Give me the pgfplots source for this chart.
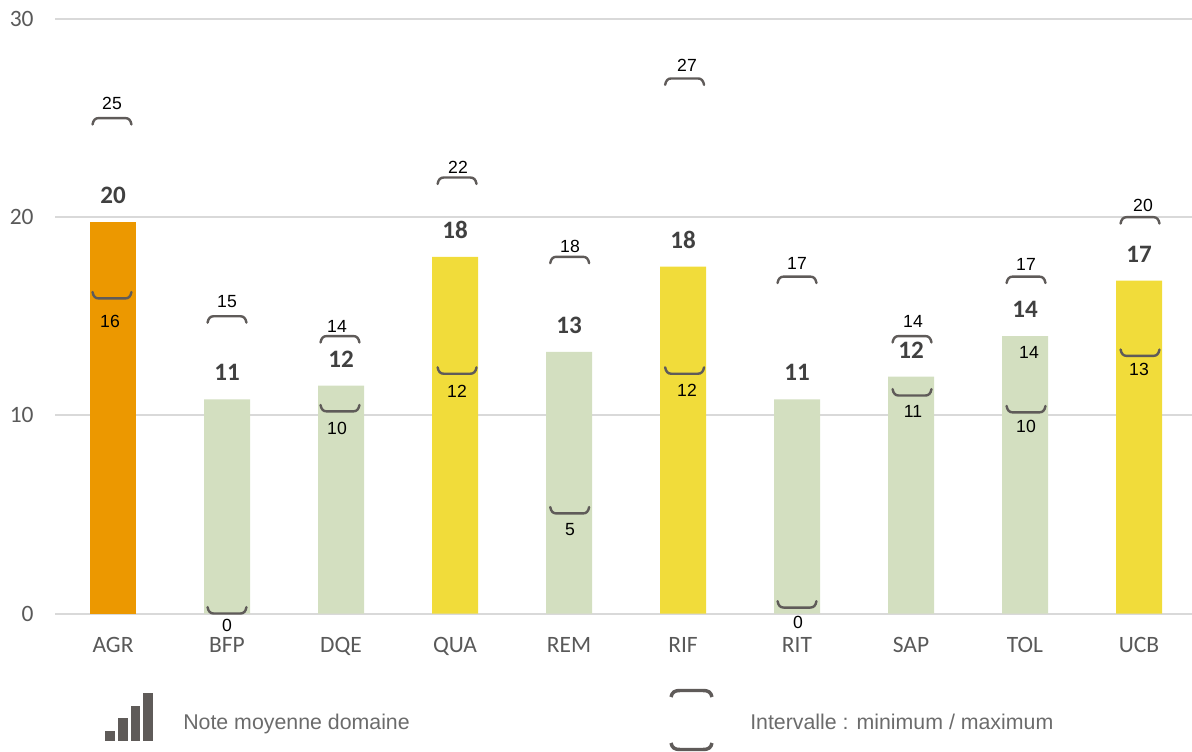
\documentclass[border=0pt]{standalone}
\usepackage{pgfplots}
\usepackage{fontspec}
\pgfplotsset{compat=1.18}
\setmainfont{Liberation Sans}
\newfontfamily\carlito{Carlito}
\definecolor{barorange}{HTML}{EC9800}
\definecolor{baryellow}{HTML}{F1DC3A}
\definecolor{bargreen}{HTML}{D3DFC0}
\definecolor{gridc}{HTML}{D9D9D9}
\definecolor{brk}{HTML}{5F5B59}
\definecolor{tickc}{HTML}{595959}
\definecolor{valc}{HTML}{404040}
\definecolor{legc}{HTML}{6B6B6B}
\pgfdeclareplotmark{brtop}{%
  \pgfsetlinewidth{1.8pt}\pgfsetroundcap
  \pgfpathmoveto{\pgfpoint{-14.6pt}{-4.8pt}}
  \pgfpathcurveto{\pgfpoint{-14pt}{-1.5pt}}{\pgfpoint{-12.5pt}{0pt}}{\pgfpoint{-10pt}{0pt}}
  \pgfpathlineto{\pgfpoint{10pt}{0pt}}
  \pgfpathcurveto{\pgfpoint{12.5pt}{0pt}}{\pgfpoint{14pt}{-1.5pt}}{\pgfpoint{14.6pt}{-4.8pt}}
  \pgfusepathqstroke}
\pgfdeclareplotmark{brbot}{%
  \pgfsetlinewidth{1.8pt}\pgfsetroundcap
  \pgfpathmoveto{\pgfpoint{-14.6pt}{4.8pt}}
  \pgfpathcurveto{\pgfpoint{-14pt}{1.5pt}}{\pgfpoint{-12.5pt}{0pt}}{\pgfpoint{-10pt}{0pt}}
  \pgfpathlineto{\pgfpoint{10pt}{0pt}}
  \pgfpathcurveto{\pgfpoint{12.5pt}{0pt}}{\pgfpoint{14pt}{1.5pt}}{\pgfpoint{14.6pt}{4.8pt}}
  \pgfusepathqstroke}
\begin{document}
\begin{tikzpicture}
\path[use as bounding box] (0,0) rectangle (894pt,563.25pt);
\begin{axis}[
  at={(41.25pt,103.125pt)}, anchor=south west,
  scale only axis, width=852.75pt, height=445.875pt,
  xmin=-0.5088, xmax=9.4649, ymin=0, ymax=30,
  clip=false,
  axis line style={draw=none},
  major tick length=0pt,
  xtick={0,...,9},
  xticklabels={AGR,BFP,DQE,QUA,REM,RIF,RIT,SAP,TOL,UCB},
  ytick={0,10,20,30},
  ymajorgrids,
  grid style={draw=gridc,line width=1.5pt},
  /pgf/number format/assume math mode=true,
  tick label style={font=\carlito\fontsize{17.6}{20}\selectfont,text=tickc},
  xticklabel style={yshift=-14.5pt},
  yticklabel style={xshift=-12.5pt},
  barval/.style={
    ybar, bar shift=0pt, bar width=34.5pt, draw=none,
    point meta=y,
    nodes near coords={\pgfmathprintnumber[fixed,precision=0]{\pgfplotspointmeta}},
    every node near coord/.style={anchor=center,yshift=20pt,text=valc,
      font=\carlito\bfseries\fontsize{18.8}{20}\selectfont,inner sep=0pt},
  },
]
\addplot[barval,fill=barorange] coordinates {(0,19.75)};
\addplot[barval,fill=bargreen] coordinates {(1,10.8)(2,11.5)(4,13.2)(6,10.8)(7,11.95)(8,14)};
\addplot[barval,fill=baryellow] coordinates {(3,18)(5,17.5)(9,16.8)};
\addplot[only marks,mark=brtop,brk] coordinates {
  (-0.009,25)(1,15)(1.991,14)(3.018,22)(4.006,18)(5.014,27)(6,17)(7.009,14)(8.009,17)(9.009,20)};
\addplot[only marks,mark=brbot,brk] coordinates {
  (-0.009,15.9)(1,0)(1.991,10.2)(3.018,12.1)(4.006,5.05)(5.014,12.1)(6,0.3)(7.009,11)(8.009,10.15)(9.009,13)};
\addplot[draw=none,mark=none,
  visualization depends on={value \thisrow{dx} \as \ldx},
  visualization depends on={value \thisrow{dy} \as \ldy},
  point meta=y,
  nodes near coords={\pgfmathprintnumber[fixed,precision=0]{\pgfplotspointmeta}},
  every node near coord/.style={anchor=center,inner sep=0pt,text=black,
    font=\fontsize{13.2}{15}\selectfont,
    xshift={\ldx*0.75pt},yshift={\ldy*0.75pt}},
] table[x=x,y=y] {
x y dx dy
0 25 -1 14.6
1 15 0 15.2
2 14 -4 10
3 22 3 10
4 18 1 10.8
5 27 4 13
6 17 0 13
7 14 2 15
8 17 1 12
9 20 4 11.7
0 16 -3 -24.6
1 0 0 -12
2 10 -4 -12.7
3 12 2 -15.3
4 5 1 -15.6
5 12 4 -14.8
6 0 1 -8.5
7 11 2 -15.5
8 10 1 -10.7
9 13 0 -13.6
8 14 4 -15.9
};
\end{axis}
\begin{scope}[shift={(0,563.25pt)},x=0.75pt,y=-0.75pt]
  \fill[brk] (105,731) rectangle (115,741);
  \fill[brk] (118,718) rectangle (128,741);
  \fill[brk] (130.5,706) rectangle (140,741);
  \fill[brk] (143,693) rectangle (153,741);
  \node[anchor=base west,inner sep=0pt,text=legc,font=\fontsize{16}{18}\selectfont] at (183,729) {Note moyenne domaine};
  \node[anchor=base west,inner sep=0pt,text=legc,font=\fontsize{16}{18}\selectfont] at (750,729) {Intervalle : minimum / maximum};
  \draw[brk,line width=2.6pt] (671,697) .. controls (672,692) and (675,690.5) .. (680,690.5) -- (703,690.5) .. controls (708,690.5) and (711,692) .. (712,697);
  \draw[brk,line width=2.6pt] (671,743) .. controls (672,748) and (675,749.5) .. (680,749.5) -- (703,749.5) .. controls (708,749.5) and (711,748) .. (712,743);
\end{scope}
\end{tikzpicture}
\end{document}
